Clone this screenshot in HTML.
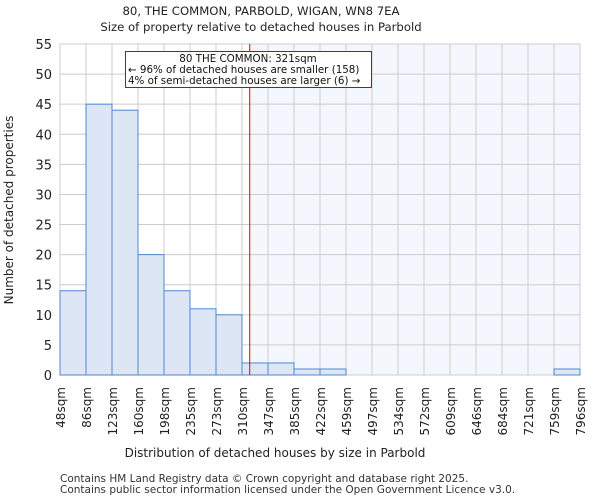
<!DOCTYPE html>
<html><head><meta charset="utf-8"><style>
body{margin:0;background:#fff;}
svg{display:block;font-family:"DejaVu Sans","Liberation Sans",sans-serif;}
</style></head><body>
<svg id="chart" width="600" height="500" xmlns="http://www.w3.org/2000/svg">
<text x="261" y="15" text-anchor="middle" font-size="11.7" fill="#222">80, THE COMMON, PARBOLD, WIGAN, WN8 7EA</text>
<text x="261" y="31" text-anchor="middle" font-size="11.7" fill="#222">Size of property relative to detached houses in Parbold</text>
<g id="plot"></g>
<text x="275" y="457" text-anchor="middle" font-size="12" fill="#222">Distribution of detached houses by size in Parbold</text>
<text transform="translate(13,210) rotate(-90)" text-anchor="middle" font-size="12" fill="#222">Number of detached properties</text>
<text x="60" y="482" font-size="10.5" fill="#333">Contains HM Land Registry data © Crown copyright and database right 2025.</text>
<text x="60" y="493" font-size="10.5" fill="#333">Contains public sector information licensed under the Open Government Licence v3.0.</text>
</svg>
<script>
const binLabels=["48sqm","86sqm","123sqm","160sqm","198sqm","235sqm","273sqm","310sqm","347sqm","385sqm","422sqm","459sqm","497sqm","534sqm","572sqm","609sqm","646sqm","684sqm","721sqm","759sqm","796sqm"];
const binEdges=[48,86,123,160,198,235,273,310,347,385,422,459,497,534,572,609,646,684,721,759,796];
const counts=[14,45,44,20,14,11,10,2,2,1,1,0,0,0,0,0,0,0,0,1];
const yTicks=[0,5,10,15,20,25,30,35,40,45,50,55];
const propertySize=321;
const NS="http://www.w3.org/2000/svg";
const L=60,R=580,T=44,B=375,yMax=55;
const nb=counts.length;
function xIdx(i){return L+(R-L)*i/nb;}
function xVal(v){let i=0;while(i<nb-1&&v>binEdges[i+1])i++;return xIdx(i)+(v-binEdges[i])/(binEdges[i+1]-binEdges[i])*(R-L)/nb;}
function y(v){return B-(B-T)*v/yMax;}
const g=document.getElementById('plot');
function mk(t,a){const e=document.createElementNS(NS,t);for(const k in a)e.setAttribute(k,a[k]);g.appendChild(e);return e;}
const px=xVal(propertySize);
let sh=mk('rect',{x:px,y:T,width:R-px,height:B-T,fill:'#f4f7fd'});


yTicks.forEach(v=>{
 let l=mk('line',{x1:L,x2:R,y1:y(v),y2:y(v),stroke:'#ccc','stroke-width':1});
 
 
 let t=mk('text',{x:L-8,y:y(v)+5,'text-anchor':'end','font-size':13,fill:'#222'});t.textContent=v;
 
 
});
binLabels.forEach((s,i)=>{
 const x=xIdx(i);
 let l=mk('line',{x1:x,x2:x,y1:T,y2:B,stroke:'#ccc','stroke-width':1});
 
 
 let t=mk('text',{transform:`translate(${x+5},${B+12}) rotate(-90)`,'text-anchor':'end','font-size':12,fill:'#222'});t.textContent=s;
 
 
});
counts.forEach((c,i)=>{
 if(c<=0)return;
 let r=mk('rect',{x:xIdx(i),y:y(c),width:(R-L)/nb,height:B-y(c),fill:'#dce6f5',stroke:'#4f86d4','stroke-width':1});
 
 
});
let rl=mk('line',{x1:px,x2:px,y1:T,y2:B,stroke:'#e00000','stroke-width':1});


let box=mk('rect',{x:125.5,y:51.5,width:246,height:36,fill:'#fff',stroke:'#cc0000','stroke-width':1});


[["80 THE COMMON: 321sqm",62,'middle',248],["← 96% of detached houses are smaller (158)",73,'start',128],["4% of semi-detached houses are larger (6) →",84,'start',128]].forEach(a=>{
 let t=mk('text',{x:a[3],y:a[1],'text-anchor':a[2],'font-size':10.3,fill:'#111'});t.textContent=a[0];
 
 
});
</script>
</body></html>
